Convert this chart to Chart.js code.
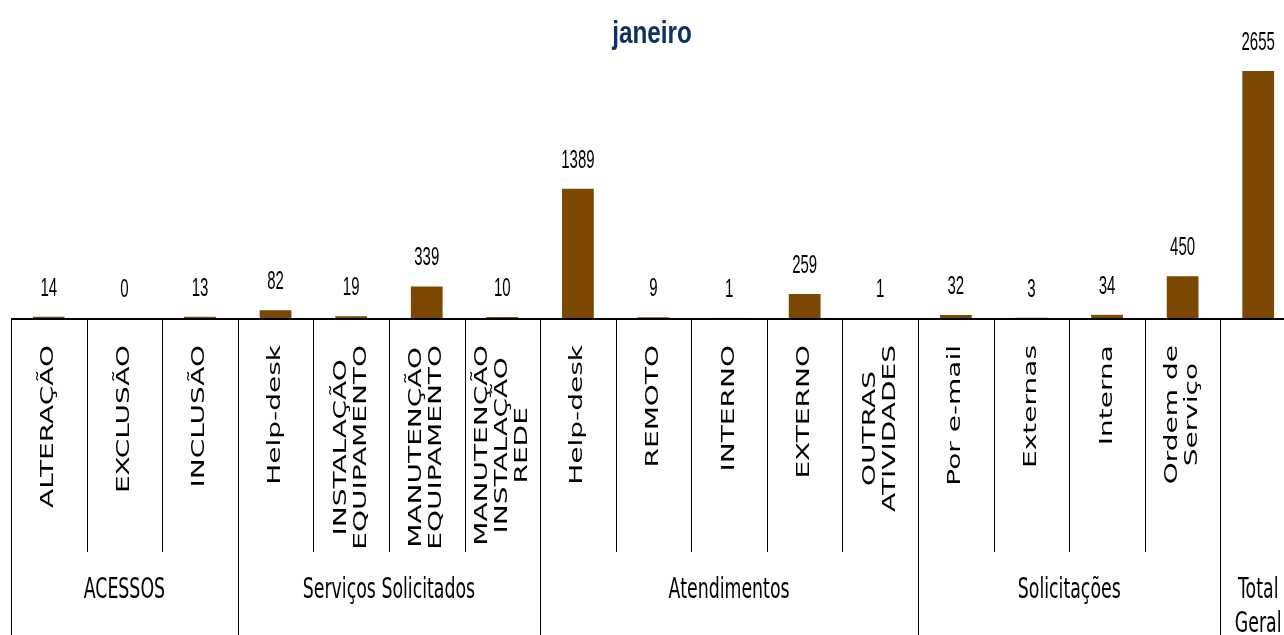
<!DOCTYPE html>
<html>
<head>
<meta charset="utf-8">
<script src="https://cdn.jsdelivr.net/npm/chart.js@4"></script>
<style>
  html, body { margin: 0; padding: 0; background: #fff; overflow: hidden; }
  #chart { display: block; }
</style>
</head>
<body>
<canvas id="chart" width="1296" height="635"></canvas>
<script>
// janeiro - atendimentos por categoria
const categoryLines = [
  ["ALTERAÇÃO"],
  ["EXCLUSÃO"],
  ["INCLUSÃO"],
  ["Help-desk"],
  ["INSTALAÇÃO", "EQUIPAMENTO"],
  ["MANUTENÇÃO", "EQUIPAMENTO"],
  ["MANUTENÇÃO", "INSTALAÇÃO", "REDE"],
  ["Help-desk"],
  ["REMOTO"],
  ["INTERNO"],
  ["EXTERNO"],
  ["OUTRAS", "ATIVIDADES"],
  ["Por e-mail"],
  ["Externas"],
  ["Interna"],
  ["Ordem de", "Serviço"],
  [],
];
const values = [14, 0, 13, 82, 19, 339, 10, 1389, 9, 1, 259, 1, 32, 3, 34, 450, 2655];
const groupNames = [["ACESSOS"], ["Serviços Solicitados"], ["Atendimentos"], ["Solicitações"], ["Total", "Geral"]];
const groupSizes = [3, 4, 5, 4, 1];
const chartTitle = "janeiro";

const barColor = "#7a4800";
const squeeze = 0.6;

// text helper: the original picture is horizontally compressed
function squeezedText(ctx, text, x, y, sx) {
  ctx.save();
  ctx.translate(x, y);
  ctx.scale(sx, 1);
  ctx.fillText(text, 0, 0);
  ctx.restore();
}

const tablePlugin = {
  id: "tablePlugin",
  afterDraw(chart) {
    const ctx = chart.ctx;
    const area = chart.chartArea;
    const xs = chart.scales.x;
    const ys = chart.scales.y;
    const step = xs.getPixelForValue(1) - xs.getPixelForValue(0);
    const base = area.bottom;
    const bottom = chart.height;

    ctx.save();

    // title
    ctx.fillStyle = "#0d3163";
    ctx.font = "bold 32px 'Liberation Sans', Arial, sans-serif";
    ctx.textAlign = "center";
    ctx.textBaseline = "alphabetic";
    squeezedText(ctx, chartTitle, 652, 43, 0.76);

    // value labels
    ctx.fillStyle = "#000";
    ctx.font = "25px 'Liberation Sans', Arial, sans-serif";
    values.forEach((v, i) => {
      const x = xs.getPixelForValue(i);
      const y = ys.getPixelForValue(v);
      squeezedText(ctx, String(v), x, y - 21, squeeze);
    });

    // dividers
    ctx.strokeStyle = "#000";
    ctx.lineWidth = 1;
    const groupEnds = new Set();
    let acc = 0;
    groupSizes.forEach((n) => { acc += n; groupEnds.add(acc); });
    for (let k = 0; k <= values.length; k++) {
      const x = Math.round(xs.getPixelForValue(k) - step / 2) + 0.5;
      const isGroup = k === 0 || groupEnds.has(k);
      ctx.beginPath();
      ctx.moveTo(x, base);
      ctx.lineTo(x, isGroup ? bottom : 552);
      ctx.stroke();
    }

    // axis line
    ctx.lineWidth = 2;
    ctx.beginPath();
    ctx.moveTo(area.left, base + 1);
    ctx.lineTo(area.right, base + 1);
    ctx.stroke();

    // rotated category labels
    ctx.font = "28px 'DejaVu Sans', Verdana, sans-serif";
    ctx.textAlign = "center";
    ctx.textBaseline = "middle";
    categoryLines.forEach((lines, i) => {
      if (!lines.length) return;
      const cx = xs.getPixelForValue(i);
      const maxLen = Math.max(...lines.map((t) => ctx.measureText(t).width));
      ctx.save();
      ctx.translate(cx, 345);
      ctx.scale(0.62, 1);
      ctx.rotate(-Math.PI / 2);
      lines.forEach((t, j) => {
        const off = (j - (lines.length - 1) / 2) * 32;
        ctx.fillText(t, -maxLen / 2, off);
      });
      ctx.restore();
    });

    // group labels
    ctx.font = "28px 'DejaVu Sans', Verdana, sans-serif";
    ctx.textAlign = "center";
    ctx.textBaseline = "alphabetic";
    let start = 0;
    groupSizes.forEach((n, g) => {
      const left = xs.getPixelForValue(start) - step / 2;
      const right = xs.getPixelForValue(start + n - 1) + step / 2;
      const cx = (left + right) / 2;
      groupNames[g].forEach((t, j) => {
        squeezedText(ctx, t, cx, 598 + j * 34, 0.62);
      });
      start += n;
    });

    ctx.restore();
  },
};

new Chart(document.getElementById("chart").getContext("2d"), {
  type: "bar",
  data: {
    labels: categoryLines.map((l) => l.join(" ")),
    datasets: [
      {
        data: values,
        backgroundColor: barColor,
        borderWidth: 0,
        barPercentage: 0.42,
        categoryPercentage: 1,
      },
    ],
  },
  options: {
    responsive: false,
    animation: false,
    devicePixelRatio: 1,
    layout: {
      padding: { left: 11, right: 0, top: 39, bottom: 317 },
    },
    scales: {
      x: { display: false },
      y: { display: false, min: 0, max: 3000 },
    },
    plugins: {
      legend: { display: false },
      tooltip: { enabled: false },
      title: { display: false },
    },
  },
  plugins: [tablePlugin],
});
</script>
</body>
</html>
